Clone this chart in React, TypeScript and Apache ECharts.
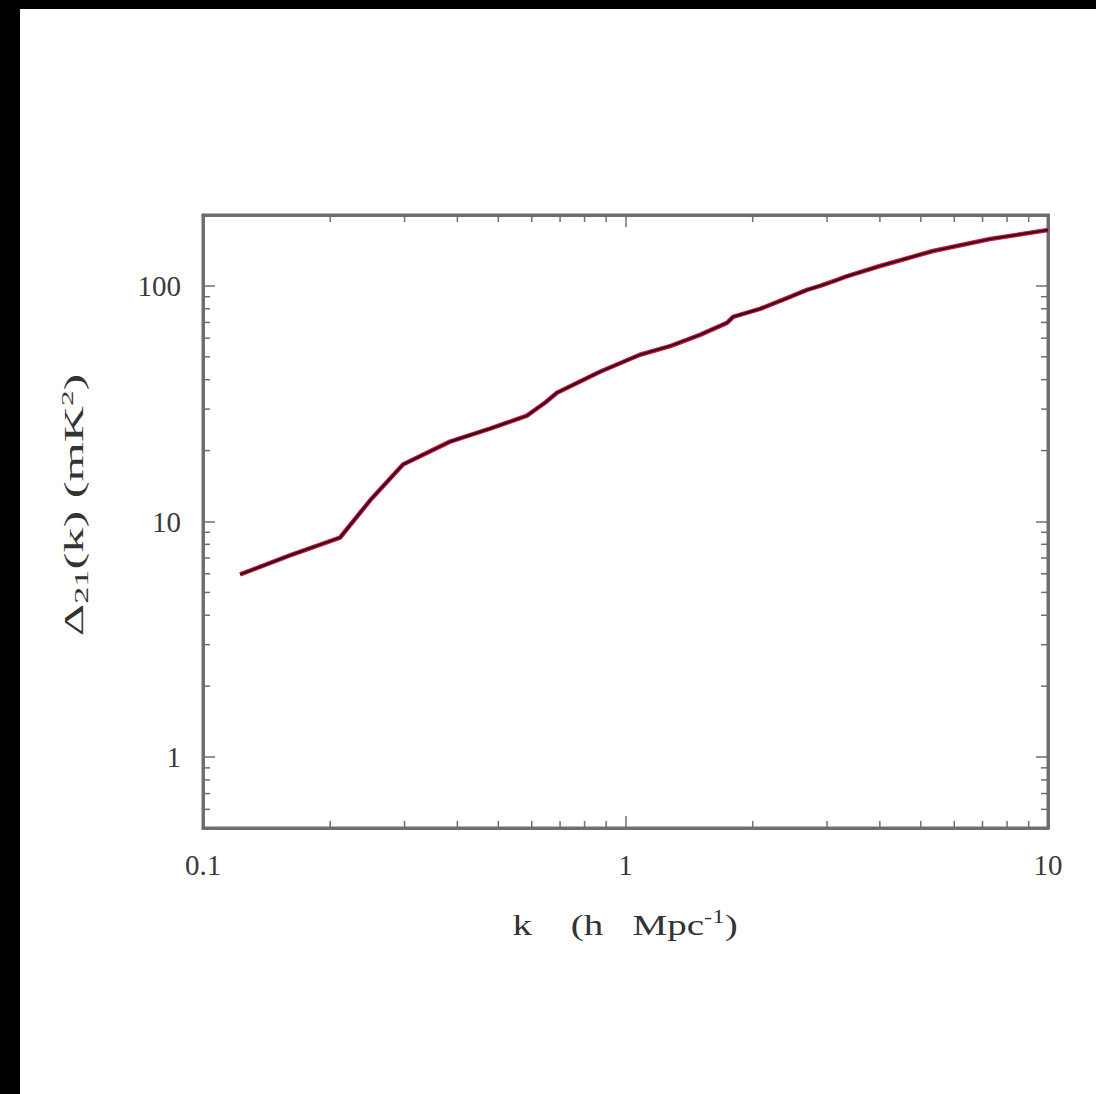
import React, { useEffect, useRef } from "react";
import * as echarts from "echarts";

// k (h Mpc^-1)
const kValues = [
  0.1224, 0.1606, 0.2111, 0.2484, 0.2974, 0.3842, 0.4779, 0.5845, 0.6449, 0.6884,
  0.8701, 1.082, 1.281, 1.501, 1.739, 1.797, 2.081, 2.451, 2.689, 2.887,
  3.168, 3.308, 4.003, 5.344, 7.291, 10,
];
// Delta_21(k) (mK^2)
const deltaValues = [
  5.96, 7.18, 8.55, 12.27, 17.44, 21.83, 24.78, 28.13, 31.93, 35.21,
  43.21, 51.02, 55.69, 62.0, 69.7, 73.9, 79.9, 89.8, 96.2, 100,
  106.0, 109.2, 121.5, 140.7, 158.2, 172.7,
];

const xTickLabels = ["0.1", "1", "10"];
const yTickLabels = ["1", "10", "100"];
const xMinorTicks = [0.2, 0.3, 0.4, 0.5, 0.6, 0.7, 0.8, 0.9, 2, 3, 4, 5, 6, 7, 8, 9];
const yMinorTicks = [0.6, 0.7, 0.8, 0.9, 2, 3, 4, 5, 6, 7, 8, 9, 20, 30, 40, 50, 60, 70, 80, 90];

const X_MIN = 0.1;
const X_MAX = 10;
const Y_MIN = 0.5;
const Y_MAX = 200;

const FONT = "Liberation Serif";
const FRAME = "#6e6e6e";

export default function App() {
  const ref = useRef<HTMLDivElement>(null);

  useEffect(() => {
    if (!ref.current) return;
    const chart = echarts.init(ref.current, null, { renderer: "svg" });

    const curve = kValues.map((k, i) => [k, deltaValues[i]]);

    const labelFmt = (allowed: string[]) => (v: number) => {
      const s = String(+v.toPrecision(6));
      return allowed.includes(s) ? s : "";
    };

    const axisCommon = {
      type: "log" as const,
      logBase: 10,
      axisLine: { show: true, lineStyle: { color: FRAME, width: 3 } },
      axisTick: { show: true, inside: true, length: 12, lineStyle: { color: FRAME, width: 1.5 } },
      splitLine: { show: false },
    };

    const option: any = {
      animation: false,
      backgroundColor: "#ffffff",
      grid: {
        left: 203,
        top: 215,
        right: 48,
        bottom: 266,
        show: true,
        borderColor: FRAME,
        borderWidth: 3,
        backgroundColor: "#ffffff",
      },
      xAxis: [
        {
          ...axisCommon,
          position: "bottom",
          min: X_MIN,
          max: X_MAX,
          axisLabel: {
            show: true,
            margin: 22,
            fontFamily: FONT,
            fontSize: 29,
            color: "#3a3a3a",
            showMinLabel: true,
            showMaxLabel: true,
            formatter: labelFmt(xTickLabels),
          },
        },
        {
          ...axisCommon,
          position: "top",
          min: X_MIN,
          max: X_MAX,
          axisLabel: { show: false },
        },
      ],
      yAxis: [
        {
          ...axisCommon,
          position: "left",
          min: Y_MIN,
          max: Y_MAX,
          axisLabel: {
            show: true,
            margin: 22,
            fontFamily: FONT,
            fontSize: 29,
            color: "#3a3a3a",
            formatter: labelFmt(yTickLabels),
          },
        },
        {
          ...axisCommon,
          position: "right",
          min: Y_MIN,
          max: Y_MAX,
          axisLabel: { show: false },
        },
      ],
      series: [
        {
          type: "custom",
          name: "yMinor",
          xAxisIndex: 0,
          yAxisIndex: 0,
          clip: false,
          silent: true,
          data: yMinorTicks.map((v) => [X_MIN, v]),
          renderItem: (params: any, api: any) => {
            const v = api.value(1);
            const l = api.coord([X_MIN, v]);
            const r = api.coord([X_MAX, v]);
            const st = { stroke: FRAME, lineWidth: 1.5 };
            return {
              type: "group",
              children: [
                { type: "line", shape: { x1: l[0], y1: l[1], x2: l[0] + 7, y2: l[1] }, style: st },
                { type: "line", shape: { x1: r[0], y1: r[1], x2: r[0] - 7, y2: r[1] }, style: st },
              ],
            };
          },
        },
        {
          type: "custom",
          name: "xMinor",
          xAxisIndex: 0,
          yAxisIndex: 0,
          clip: false,
          silent: true,
          data: xMinorTicks.map((v) => [v, Y_MIN]),
          renderItem: (params: any, api: any) => {
            const v = api.value(0);
            const b = api.coord([v, Y_MIN]);
            const t = api.coord([v, Y_MAX]);
            const st = { stroke: FRAME, lineWidth: 1.5 };
            return {
              type: "group",
              children: [
                { type: "line", shape: { x1: b[0], y1: b[1], x2: b[0], y2: b[1] - 7 }, style: st },
                { type: "line", shape: { x1: t[0], y1: t[1], x2: t[0], y2: t[1] + 7 }, style: st },
              ],
            };
          },
        },
        {
          type: "line",
          name: "red",
          data: curve,
          showSymbol: false,
          symbol: "none",
          smooth: false,
          lineStyle: { color: "#d3123f", width: 4.5 },
          z: 3,
        },
        {
          type: "line",
          name: "black",
          data: curve,
          showSymbol: false,
          symbol: "none",
          smooth: false,
          lineStyle: { color: "#2b1119", width: 2.2 },
          z: 4,
        },
      ],
      graphic: [
        { type: "rect", left: 0, top: 0, shape: { width: 20, height: 1094 }, style: { fill: "#000" } },
        { type: "rect", left: 0, top: 0, shape: { width: 1096, height: 9 }, style: { fill: "#000" } },
        {
          type: "text",
          x: 74,
          y: 505,
          rotation: Math.PI / 2,
          scaleX: 1.8,
          style: {
            text: "Δ{sub|21}(k) (mK{sup|2})",
            fontFamily: FONT,
            fontSize: 28,
            fill: "#333",
            align: "center",
            verticalAlign: "middle",
            rich: {
              sub: { fontFamily: FONT, fontSize: 19, fill: "#333", padding: [14, 0, 0, 0] },
              sup: { fontFamily: FONT, fontSize: 17, fill: "#333", padding: [0, 0, 14, 0] },
            },
          },
        },
        {
          type: "text",
          x: 625,
          y: 925,
          scaleX: 1.3,
          style: {
            text: "k    (h   Mpc{sup|-1})",
            fontFamily: FONT,
            fontSize: 30,
            fill: "#333",
            align: "center",
            verticalAlign: "middle",
            rich: {
              sup: { fontFamily: FONT, fontSize: 19, fill: "#333", padding: [0, 0, 16, 0] },
            },
          },
        },
      ],
    };

    chart.setOption(option);
    return () => chart.dispose();
  }, []);

  return (
    <div
      ref={ref}
      style={{ position: "fixed", left: 0, top: 0, width: 1096, height: 1094, background: "#fff" }}
    />
  );
}
